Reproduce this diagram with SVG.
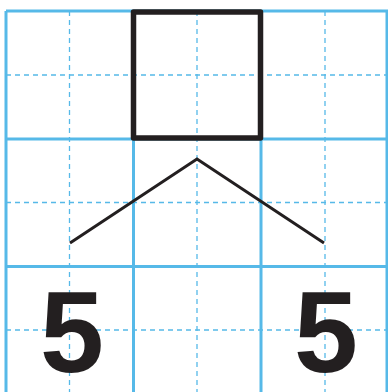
<svg xmlns="http://www.w3.org/2000/svg" width="388" height="392" viewBox="0 0 388 392">
<style>
.solid{stroke:#56b9e8;stroke-width:3;fill:none}
.dash{stroke:#56b9e8;stroke-width:1.3;stroke-dasharray:5 4;fill:none}
.ink{stroke:#231f20;fill:none}
.num{font-family:"Liberation Sans",Arial,sans-serif;font-weight:bold;font-size:115px;fill:#231f20;text-anchor:middle}
</style>
<rect width="388" height="392" fill="#ffffff"/>
<g id="grid">
<path class="dash" d="M69.5 11V392M197 11V392M325 11V392M6 75H388M6 202.5H388M6 330H388"/>
<path class="solid" d="M6 11V392M133.5 11V392M261 11V392M387 11V392M6 11H388M6 139H388M6 266.5H388"/>
</g>
<g id="box">
<rect class="ink" x="133.5" y="12" width="127" height="126" stroke-width="5.5" stroke-linejoin="round"/>
</g>
<g id="connectors">
<polyline class="ink" stroke-width="3" points="70,243 197,159 324,243"/>
</g>
<g id="left-num"><text class="num" x="72" y="372">5</text></g>
<g id="right-num"><text class="num" x="326" y="372">5</text></g>
</svg>
